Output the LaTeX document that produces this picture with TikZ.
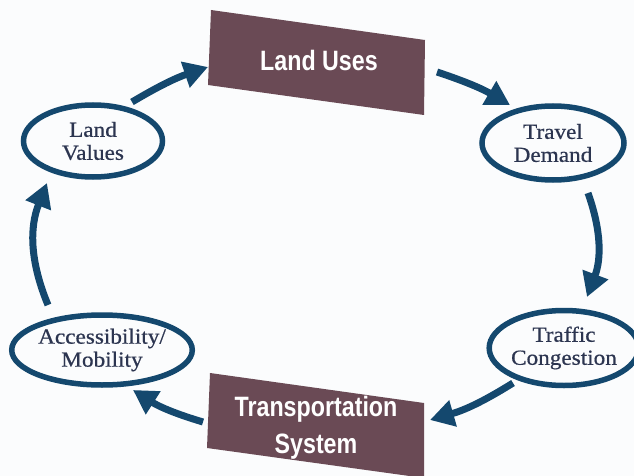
\documentclass[tikz,border=0pt]{standalone}
\usepackage{fontspec}
\usetikzlibrary{arrows.meta,shapes.geometric}
\newfontfamily\boxfont{Liberation Sans}[FakeStretch=0.83]
\newfontfamily\ovalfont{Liberation Serif}[FakeStretch=1.08,FakeBold=0.6]
\definecolor{arrowblue}{HTML}{14486E}
\definecolor{boxmauve}{HTML}{6A4A55}
\definecolor{ovaltext}{HTML}{2C3550}
\definecolor{bgc}{HTML}{FBFCFD}
\begin{document}
\begin{tikzpicture}[x=1pt,y=-1pt,
  oval/.style={ellipse, draw=arrowblue, line width=5.5pt, inner sep=0pt,
    align=center, text=ovaltext, font=\ovalfont\fontsize{21.5}{23}\selectfont},
  boxlabel/.style={inner sep=0pt, align=center, text=white,
    font=\boxfont\bfseries\fontsize{28}{37}\selectfont},
  boxfill/.style={fill=boxmauve},
  cyclearrow/.style={draw=arrowblue, line width=7pt,
    -{Triangle[length=24pt,width=26pt]}}
]
\fill[bgc] (0,0) rectangle (634,476);
\useasboundingbox (0,0) rectangle (634,476);

% boxes (slanted plates)
\fill[boxfill] (211,10) -- (425,40) -- (424,115) -- (208,85) -- cycle;
\fill[boxfill] (210,373) -- (424,403) -- (424,478) -- (207,448) -- cycle;

\node[boxlabel] (lu) at (317,62.5) {\phantom{L}};
\node[boxlabel] at (319,60) {Land Uses};
\node[boxlabel] (ts) at (316,425.5) {\phantom{T}};
\node[boxlabel] at (316,428) {Transportation\\System};

% ovals
\node[oval, minimum width=139pt, minimum height=72pt] (lv) at (93,141) {Land\\Values};
\node[oval, minimum width=142pt, minimum height=74pt] (td) at (553,143) {Travel\\Demand};
\node[oval, minimum width=144pt, minimum height=70pt] (ac) at (102,350) {Accessibility/\\Mobility};
\node[oval, minimum width=133pt, minimum height=75pt] (tc) at (564,348) {Traffic\\Congestion};

% connectors
\draw[cyclearrow] ([shift={(39,-39)}]lv.center) to[bend left=6] ([shift={(-109,4.5)}]lu.center);
\draw[cyclearrow] ([shift={(120,9.5)}]lu.center) to[bend left=6] ([shift={(-43,-38)}]td.center);
\draw[cyclearrow] ([shift={(35,50)}]td.center) to[bend left=20] ([shift={(23,-51)}]tc.center);
\draw[cyclearrow] ([shift={(-51,35)}]tc.center) to[bend left=8] ([shift={(114,-5.5)}]ts.center);
\draw[cyclearrow] ([shift={(-113,-3.5)}]ts.center) to[bend left=8] ([shift={(31,40)}]ac.center);
\draw[cyclearrow] ([shift={(-54,-45)}]ac.center) to[bend left=22] ([shift={(-46,42)}]lv.center);
\end{tikzpicture}
\end{document}
